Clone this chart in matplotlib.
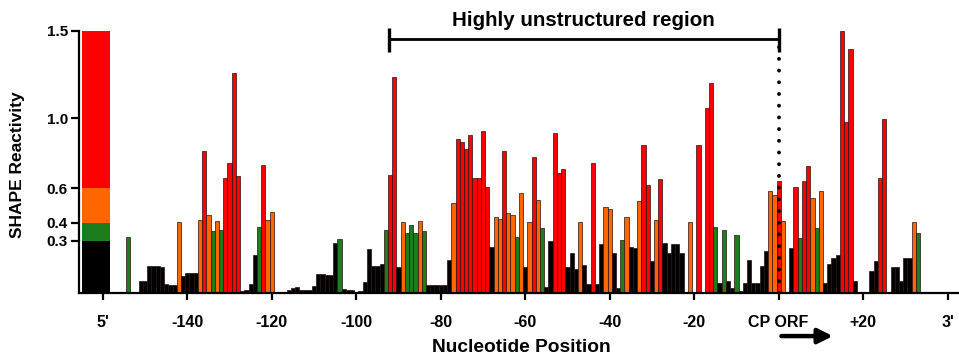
import matplotlib
matplotlib.use("Agg")
import matplotlib.pyplot as plt

plt.rcParams['font.family'] = ['Liberation Sans', 'DejaVu Sans']
plt.rcParams['font.weight'] = 'bold'

# nucleotide positions (relative to CP ORF start) and SHAPE reactivities
positions = list(range(-154, 34))
reactivity = [
    0.318, 0, 0, 0.07, 0.07, 0.155, 0.155, 0.155, 0.15, 0.05, 0.045, 0.045,   # -154..-143
    0.406, 0.10, 0.115, 0.115, 0.115,                                          # -142..-138
    0.417, 0.813, 0.446, 0.356, 0.41, 0.36, 0.657, 0.745, 1.259, 0.668,        # -137..-128
    0.01, 0.02, 0.05, 0.215, 0.379, 0.731, 0.42, 0.463,                        # -127..-120
    0, 0, 0.005, 0.015, 0.03, 0.036, 0.015, 0.015, 0.02, 0.04,                 # -119..-110
    0.108, 0.108, 0.105, 0.105, 0.288, 0.31, 0.025, 0.02, 0.02, 0.005,         # -109..-100
    0.01, 0.063, 0.253, 0.155, 0.155, 0.165, 0.36, 0.676, 1.232, 0.147,        # -99..-90
    0.406, 0.345, 0.387, 0.345, 0.41, 0.356, 0.048, 0.048, 0.045, 0.045,       # -89..-80
    0.045, 0.19, 0.512, 0.882, 0.865, 0.821, 0.901, 0.655, 0.655, 0.924,       # -79..-70
    0.604, 0.265, 0.432, 0.425, 0.81, 0.455, 0.445, 0.32, 0.57, 0.147,         # -69..-60
    0.406, 0.779, 0.531, 0.371, 0.036, 0.295, 0.912, 0.684, 0.707, 0.147,      # -59..-50
    0.227, 0.14, 0.405, 0.16, 0.05, 0.741, 0.05, 0.28, 0.493, 0.478,          # -49..-40
    0.23, 0.03, 0.303, 0.432, 0.265, 0.257, 0.524, 0.844, 0.615, 0.181,        # -39..-30
    0.42, 0.651, 0.288, 0.23, 0.28, 0.28, 0.23, 0, 0.404, 0,                   # -29..-20
    0.846, 0, 1.057, 1.198, 0.38, 0.06, 0.36, 0.07, 0.03, 0.33,                # -19..-10
    0.01, 0.06, 0.189, 0.06, 0.06, 0.154, 0.238, 0.585, 0.558,                 # -9..-1
    0.642, 0.413, 0, 0.255, 0.607, 0.312, 0.642, 0.726, 0.545, 0.373,          # 0..9
    0.583, 0.06, 0.166, 0.2, 0.215, 1.499, 0.979, 1.396, 0.07, 0,              # 10..19
    0, 0, 0.127, 0.185, 0.657, 0.996, 0, 0.147, 0.147, 0.07,                   # 20..29
    0.2, 0.2, 0.404, 0.341,                                                    # 30..33
]

# colour scale (legend bar at the 5' end)
scale_bounds = [0.0, 0.3, 0.4, 0.6, 1.5]
scale_colors = ['#000000', '#1b7d1b', '#ff6600', '#ff0000']

tick_pos = [-160, -140, -120, -100, -80, -60, -40, -20, 0, 20, 40]
tick_labels = ["5'", '-140', '-120', '-100', '-80', '-60', '-40', '-20', 'CP ORF', '+20', "3'"]
ytick_vals = [0.3, 0.4, 0.6, 1.0, 1.5]

region_start, region_end = -92.3, 0


def color_for(v):
    for lo, hi, c in zip(scale_bounds[:-1], scale_bounds[1:], scale_colors):
        if v < hi:
            return c
    return scale_colors[-1]


fig = plt.figure(figsize=(9.59, 3.59), dpi=100)
ax = fig.add_axes([79 / 959, 66 / 359, 880 / 959, 293 / 359])
ax.set_xlim(-165.65, 42.7)
ax.set_ylim(0, 293 / 175)

# legend / scale bar
for lo, hi, c in zip(scale_bounds[:-1], scale_bounds[1:], scale_colors):
    ax.bar(-161.6, hi - lo, bottom=lo, width=6.6, color=c, linewidth=0)

# data bars
xs = [p for p, v in zip(positions, reactivity) if v > 0]
vs = [v for v in reactivity if v > 0]
cols = [color_for(v) for v in vs]
ax.bar(xs, vs, width=1.0, color=cols, edgecolor='#2a1010', linewidth=0.5, zorder=2)

# dotted line at CP ORF start
ax.plot([0, 0], [0, 1.44], color='black', lw=2.8, linestyle=(0, (0.01, 3.0)),
        dash_capstyle='round', zorder=4)

# bracket for highly unstructured region
ax.plot([region_start, region_end], [1.449, 1.449], color='black', lw=2.0, solid_capstyle='butt')
for xe in (region_start, region_end):
    ax.plot([xe, xe], [1.38, 1.517], color='black', lw=2.4, solid_capstyle='butt')
ax.text((region_start + region_end) / 2, 1.56, 'Highly unstructured region',
        ha='center', va='center', fontsize=14.8, fontweight='bold')

# axes styling
for s in ('top', 'right'):
    ax.spines[s].set_visible(False)
ax.spines['left'].set_bounds(0, 1.5)
ax.spines['left'].set_linewidth(1.6)
ax.spines['bottom'].set_linewidth(1.6)
ax.set_yticks(ytick_vals)
ax.set_yticklabels([f'{v:.1f}' for v in ytick_vals], fontsize=11, fontweight='bold')
ax.set_xticks(tick_pos)
ax.set_xticklabels(tick_labels, fontsize=11.5, fontweight='bold')
ax.tick_params(axis='y', length=6, width=1.6, pad=2)
ax.tick_params(axis='x', length=5, width=1.6, pad=11)

fig.text(17.5 / 959, 1 - 165 / 359, 'SHAPE Reactivity', rotation=90, ha='center', va='center',
         fontsize=12.5, fontweight='bold')
fig.text(521 / 959, 1 - 348 / 359, 'Nucleotide Position', ha='center', va='center',
         fontsize=13.8, fontweight='bold')

# arrow under CP ORF
ax.annotate('', xy=(13.5, -0.147), xytext=(0, -0.147),
            xycoords=ax.get_xaxis_transform(), textcoords=ax.get_xaxis_transform(),
            arrowprops=dict(arrowstyle='-|>', color='black', lw=3.2, mutation_scale=22),
            annotation_clip=False)

fig.savefig('out.png', dpi=100)
